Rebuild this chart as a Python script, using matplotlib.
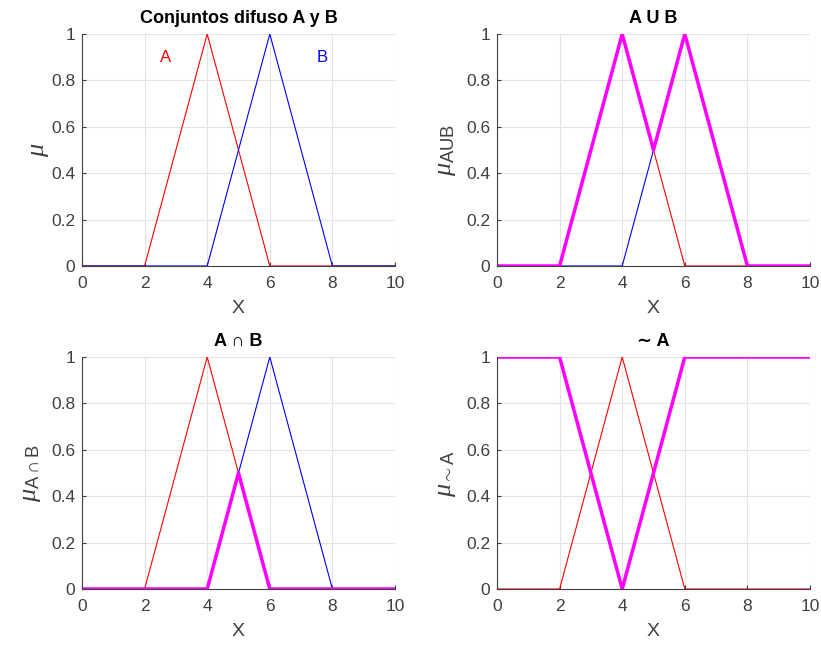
import matplotlib
matplotlib.use("Agg")
import matplotlib.pyplot as plt

plt.rcParams['font.family'] = ['Liberation Sans', 'DejaVu Sans']
plt.rcParams['mathtext.fontset'] = 'custom'
plt.rcParams['mathtext.it'] = 'Liberation Serif:italic'
plt.rcParams['mathtext.rm'] = 'Liberation Sans'
plt.rcParams['mathtext.sf'] = 'Liberation Sans'

# Data
x = [0, 2, 4, 5, 6, 8, 10]
mu_A = [0, 0, 1, 0.5, 0, 0, 0]
mu_B = [0, 0, 0, 0.5, 1, 0, 0]
mu_union = [0, 0, 1, 0.5, 1, 0, 0]
mu_inter = [0, 0, 0, 0.5, 0, 0, 0]
mu_notA = [1, 1, 0, 0.5, 1, 1, 1]

xticks = [0, 2, 4, 6, 8, 10]
yticks = [0, 0.2, 0.4, 0.6, 0.8, 1]
yticklabels = ['0', '0.2', '0.4', '0.6', '0.8', '1']

titles = ['Conjuntos difuso A y B', 'A U B', 'A \u2229 B', '\u223c A']
ylabels = [r'$\mu$', r'$\mu_{\mathrm{AUB}}$', r'$\mu_{\mathrm{A\cap B}}$', r'$\mu_{\mathrm{\sim A}}$']
ylabelpads = [0, 6, 6, 6]

RED = '#ff0000'
BLUE = '#0000ff'
MAG = '#ff00ff'
AXC = '#404040'
TXT = '#404040'

fig = plt.figure(figsize=(8.21, 6.46), dpi=100)
W, H = 821, 646
boxes = [(82, 34, 395, 266), (497, 34, 810, 266),
         (82, 357, 395, 589), (497, 357, 810, 589)]
axes = []
for (l, t, r, b) in boxes:
    ax = fig.add_axes([l / W, 1 - b / H, (r - l) / W, (b - t) / H])
    axes.append(ax)

# Plot 1
ax = axes[0]
ax.plot(x, mu_A, color=RED, lw=0.8)
ax.plot(x, mu_B, color=BLUE, lw=0.8)
ax.text(2.68, 0.9, 'A', color=RED, fontsize=12, ha='center', va='center')
ax.text(7.66, 0.9, 'B', color=BLUE, fontsize=12, ha='center', va='center')

# Plot 2
ax = axes[1]
ax.plot(x, mu_A, color=RED, lw=0.8)
ax.plot(x, mu_B, color=BLUE, lw=0.8)
ax.plot(x, mu_union, color=MAG, lw=2.5)

# Plot 3
ax = axes[2]
ax.plot(x, mu_A, color=RED, lw=0.8)
ax.plot(x, mu_B, color=BLUE, lw=0.8)
ax.plot(x, mu_inter, color=MAG, lw=2.5)

# Plot 4
ax = axes[3]
ax.plot(x, mu_A, color=RED, lw=0.8)
ax.plot(x, mu_notA, color=MAG, lw=2.5)

for i, ax in enumerate(axes):
    ax.set_xlim(0, 10)
    ax.set_ylim(0, 1)
    ax.set_xticks(xticks)
    ax.set_yticks(yticks)
    ax.set_yticklabels(yticklabels)
    ax.grid(True, color='#e3e3e3', lw=0.8)
    ax.set_axisbelow(True)
    for s in ['top', 'right']:
        ax.spines[s].set_visible(False)
    for s in ['left', 'bottom']:
        ax.spines[s].set_color(AXC)
        ax.spines[s].set_linewidth(0.8)
    ax.tick_params(direction='in', length=3, colors=AXC, labelsize=12.5,
                   labelcolor=TXT)
    ax.tick_params(axis='x', pad=7)
    ax.tick_params(axis='y', pad=5)
    ax.set_xlabel('X', fontsize=14, color=TXT, labelpad=7)
    ax.set_ylabel(ylabels[i], fontsize=19, color=TXT, labelpad=ylabelpads[i])
    ax.set_title(titles[i], fontsize=13, fontweight='bold', pad=8)

fig.savefig('out.png', dpi=100)
